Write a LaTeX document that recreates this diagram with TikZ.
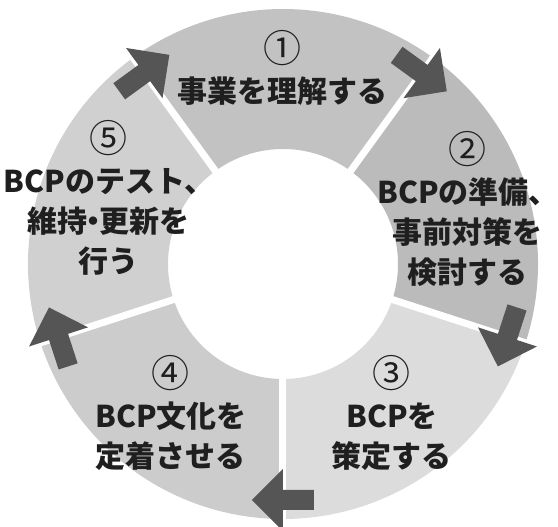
\documentclass[tikz,border=0pt]{standalone}
\usepackage{fontspec}
\setmainfont{Noto Sans CJK JP}
\definecolor{segone}{HTML}{C2C2C2}
\definecolor{segtwo}{HTML}{BBBBBB}
\definecolor{segthree}{HTML}{DCDCDC}
\definecolor{segfour}{HTML}{CCCCCC}
\definecolor{segfive}{HTML}{D0D0D0}
\definecolor{arrowgray}{HTML}{555555}
\newcommand{\stepno}[1]{{\mdseries\fontsize{38}{40}\selectfont #1}}

\begin{document}
\begin{tikzpicture}[x=1pt,y=1pt]
    \tikzset{
        gapline/.style={draw=white, line width=7pt},
        cyclearrow/.style={fill=arrowgray},
        steptext/.style={align=center, text=black!88, font=\fontsize{30}{40}\selectfont\bfseries}
    }
    \useasboundingbox (-283,-263) rectangle (275,264);
    \foreach \from/\to/\col in {54/126/segone, -18/54/segtwo, -90/-18/segthree, -162/-90/segfour, 126/198/segfive}
        \fill[\col] (\from:255) arc[start angle=\from, end angle=\to, radius=255]
            -- (\to:115) arc[start angle=\to, end angle=\from, radius=115] -- cycle;
    \foreach \a in {126,54,-18,-90,198}
        \draw[gapline] (\a:110) -- (\a:262);
    \foreach \a in {126,54,-18,-90,198}
        \fill[cyclearrow, shift={(\a:236)}, rotate=\a]
            (-10,31) -- (10,31) -- (10,0) -- (31,0) -- (0,-31) -- (-31,0) -- (-10,0) -- cycle;
    \node[steptext] (step1) at (0,196.5) {\stepno{①}\\事業を理解する};
    \node[steptext] (step2) at (185,55) {\stepno{②}\\BCPの準備、\\事前対策を\\検討する};
    \node[steptext] (step3) at (109,-148.5) {\stepno{③}\\BCPを\\策定する};
    \node[steptext] (step4) at (-112,-149) {\stepno{④}\\BCP文化を\\定着させる};
    \node[steptext] (step5) at (-174,66.5) {\stepno{⑤}\\BCPのテスト、\\維持\hspace{-0.3em}・\hspace{-0.3em}更新を\\行う};
\end{tikzpicture}
\end{document}
